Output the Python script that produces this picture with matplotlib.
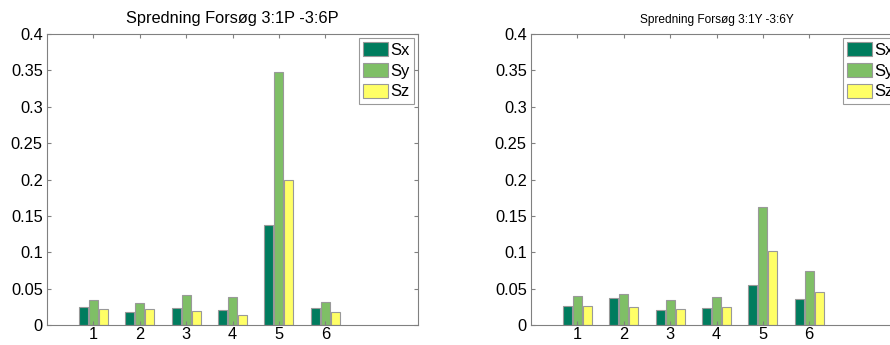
import numpy as np
import matplotlib.pyplot as plt

# spread per test run, x / y / z
groups = [1, 2, 3, 4, 5, 6]
series_names = ["Sx", "Sy", "Sz"]

sx_p = [0.0243, 0.0183, 0.0238, 0.0210, 0.1373, 0.0238]
sy_p = [0.0343, 0.0297, 0.0407, 0.0389, 0.3478, 0.0320]
sz_p = [0.0224, 0.0215, 0.0197, 0.0137, 0.1995, 0.0174]

sx_y = [0.0261, 0.0371, 0.0210, 0.0238, 0.0554, 0.0362]
sy_y = [0.0403, 0.0426, 0.0348, 0.0389, 0.1625, 0.0746]
sz_y = [0.0265, 0.0247, 0.0224, 0.0252, 0.1020, 0.0453]

titles = ["Spredning Forsøg 3:1P -3:6P", "Spredning Forsøg 3:1Y -3:6Y"]
colors = ["#007c5e", "#7fbf66", "#ffff66"]
yticks = [0, 0.05, 0.1, 0.15, 0.2, 0.25, 0.3, 0.35, 0.4]

plt.rcParams["font.family"] = ["Liberation Sans", "DejaVu Sans"]

fig = plt.figure(figsize=(8.9, 3.45), dpi=100)
axes = [fig.add_axes([47 / 890, 20 / 345, 371 / 890, 291 / 345]),
        fig.add_axes([531 / 890, 20 / 345, 371 / 890, 291 / 345])]

data = [[sx_p, sy_p, sz_p], [sx_y, sy_y, sz_y]]
x = np.array(groups)
offsets = [-0.216, 0, 0.216]

for ax, series, title, tsize in zip(axes, data, titles, [11.8, 8.6]):
    for vals, off, c, name in zip(series, offsets, colors, series_names):
        ax.bar(x + off, vals, width=0.19, color=c, edgecolor="#999999",
               linewidth=0.8, label=name)
    ax.set_xlim(0, 8)
    ax.set_ylim(0, 0.4)
    ax.set_xticks(groups)
    ax.set_yticks(yticks)
    ax.set_yticklabels([f"{t:g}" for t in yticks])
    ax.tick_params(direction="in", top=True, right=True, length=3,
                   labelsize=11.8, color="#808080", pad=3)
    ax.tick_params(axis="x", pad=1.5)
    for s in ax.spines.values():
        s.set_color("#808080")
        s.set_linewidth(0.8)
    ax.set_title(title, fontsize=tsize, pad=8)
    leg = ax.legend(loc="upper right", fontsize=12, fancybox=False,
                    borderaxespad=0.25, handlelength=1.5, handleheight=0.9,
                    handletextpad=0.15, borderpad=0.25, labelspacing=0.3)
    leg.get_frame().set_edgecolor("#808080")
    leg.get_frame().set_linewidth(0.8)

fig.savefig("out.png", dpi=100)
